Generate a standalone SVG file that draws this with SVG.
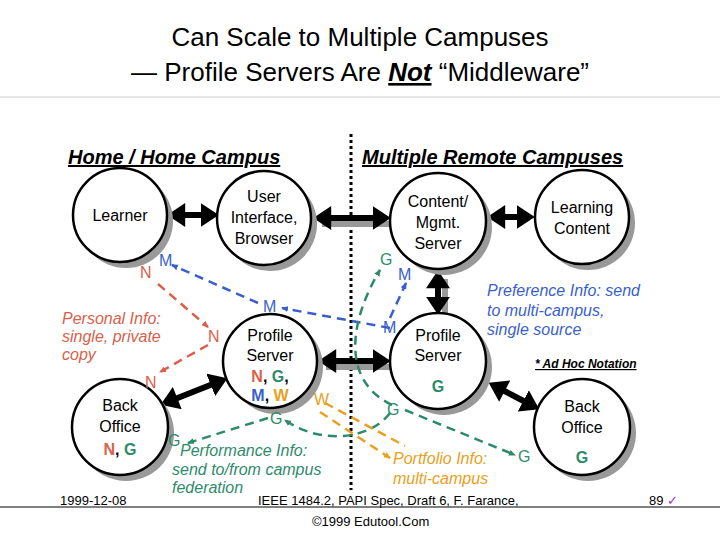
<svg xmlns="http://www.w3.org/2000/svg" width="720" height="540" viewBox="0 0 720 540">
<defs>
<style>
text{font-family:"Liberation Sans",Arial,sans-serif}
.node circle.sh{fill:#999}
.node circle.c{fill:#fff;stroke:#000;stroke-width:2.5}
.nt{font-size:16px;text-anchor:middle}
.thick{stroke:#000;stroke-width:6;fill:none;marker-start:url(#ab);marker-end:url(#ae)}
.d{fill:none;stroke-width:2.5;stroke-dasharray:9 6}
.r{stroke:#d9604a}.g{stroke:#2e8b6a}.b{stroke:#3a5fcd}.o{stroke:#e8a020}
.tr{fill:#d9604a}.tg{fill:#2e8b6a}.tb{fill:#3a5fcd}.to{fill:#e8a020}
.it{font-style:italic;font-size:16px}
.lab{font-size:16px}
</style>
<marker id="ae" markerWidth="4" markerHeight="4" refX="2.2" refY="2" orient="auto"><path d="M0,0L3,2L0,4Z" fill="#000"/></marker>
<marker id="ab" markerWidth="4" markerHeight="4" refX="0.8" refY="2" orient="auto"><path d="M3,0L0,2L3,4Z" fill="#000"/></marker>
<marker id="sr" markerWidth="8" markerHeight="8" refX="6" refY="4" orient="auto" markerUnits="userSpaceOnUse"><path d="M0,1L7,4L0,7Z" fill="#d9604a"/></marker>
<marker id="sg" markerWidth="8" markerHeight="8" refX="6" refY="4" orient="auto" markerUnits="userSpaceOnUse"><path d="M0,1L7,4L0,7Z" fill="#2e8b6a"/></marker>
<marker id="sb" markerWidth="8" markerHeight="8" refX="6" refY="4" orient="auto" markerUnits="userSpaceOnUse"><path d="M0,1L7,4L0,7Z" fill="#3a5fcd"/></marker>
<marker id="so" markerWidth="8" markerHeight="8" refX="6" refY="4" orient="auto" markerUnits="userSpaceOnUse"><path d="M0,1L7,4L0,7Z" fill="#e8a020"/></marker>
</defs>
<rect width="720" height="540" fill="#fff"/>
<text x="360" y="46" font-size="26" text-anchor="middle">Can Scale to Multiple Campuses</text>
<text x="360" y="81" font-size="26" text-anchor="middle">— Profile Servers Are <tspan font-weight="bold" font-style="italic" text-decoration="underline">Not</tspan> “Middleware”</text>
<line x1="0" y1="97" x2="720" y2="97" stroke="#ccc" stroke-width="1"/>
<text x="68" y="164" font-size="20" font-weight="bold" font-style="italic" text-decoration="underline">Home / Home Campus</text>
<text x="362" y="164" font-size="20" font-weight="bold" font-style="italic" text-decoration="underline">Multiple Remote Campuses</text>
<line x1="351" y1="134" x2="351" y2="490" stroke="#000" stroke-width="3" stroke-dasharray="3 3"/>

<g id="connectors">
<g stroke="#999" stroke-width="6" fill="none"><line x1="322" y1="224" x2="392" y2="224"/><line x1="326" y1="367" x2="392" y2="367"/><line x1="445" y1="279" x2="445" y2="318"/></g>
<line class="thick" x1="172" y1="215" x2="214" y2="215"/>
<line class="thick" x1="318" y1="218" x2="386" y2="218"/>
<line class="thick" x1="492" y1="217" x2="530" y2="217"/>
<line class="thick" x1="438" y1="275" x2="438" y2="310"/>
<line class="thick" x1="323" y1="361" x2="386" y2="361"/>
<line class="thick" x1="165" y1="403" x2="223" y2="380"/>
<line class="thick" x1="493" y1="385" x2="535" y2="407"/>
<path class="d b" d="M390,328 L282,308" marker-end="url(#sb)"/>
<path class="d b" d="M258,303 L172,265" marker-end="url(#sb)"/>
<path class="d b" d="M390,318 L406,283" marker-end="url(#sb)"/>
<path class="d r" d="M158,284 L208,327" marker-end="url(#sr)"/>
<path class="d r" d="M208,345 L160,372" marker-end="url(#sr)"/>
<path class="d g" d="M392,405 C340,380 350,320 380,270" marker-end="url(#sg)"/>
<path class="d g" d="M390,413 C370,440 320,445 285,420" marker-end="url(#sg)"/>
<path class="d g" d="M268,418 L188,443" marker-end="url(#sg)"/>
<path class="d g" d="M405,410 L515,455" marker-end="url(#sg)"/>
<path class="d o" d="M325,403 L405,446"/>
<path class="d o" d="M320,412 L390,458" marker-end="url(#so)"/>
</g>

<g id="learner" class="node"><circle class="sh" cx="126" cy="221" r="47"/><circle class="c" cx="120" cy="215" r="47"/><text class="nt" x="120" y="221">Learner</text></g>
<g id="ui" class="node"><circle class="sh" cx="270" cy="224" r="47"/><circle class="c" cx="264" cy="218" r="47"/><text class="nt" x="264" y="202">User</text><text class="nt" x="264" y="223">Interface,</text><text class="nt" x="264" y="244">Browser</text></g>
<g id="content" class="node"><circle class="sh" cx="444" cy="227" r="48"/><circle class="c" cx="438" cy="221" r="48"/><text class="nt" x="438" y="207">Content/</text><text class="nt" x="438" y="228">Mgmt.</text><text class="nt" x="438" y="249">Server</text></g>
<g id="learning" class="node"><circle class="sh" cx="588" cy="223" r="47"/><circle class="c" cx="582" cy="217" r="47"/><text class="nt" x="582" y="213">Learning</text><text class="nt" x="582" y="234">Content</text></g>
<g id="profile-home" class="node"><circle class="sh" cx="276" cy="367" r="47"/><circle class="c" cx="270" cy="361" r="47"/><text class="nt" x="270" y="341">Profile</text><text class="nt" x="270" y="361">Server</text><text class="nt" x="270" y="382" font-weight="bold" font-size="18"><tspan class="tr">N</tspan>, <tspan class="tg">G</tspan>,</text><text class="nt" x="270" y="401" font-weight="bold" font-size="18"><tspan class="tb">M</tspan>, <tspan class="to">W</tspan></text></g>
<g id="backoffice-home" class="node"><circle class="sh" cx="126" cy="433" r="48"/><circle class="c" cx="120" cy="427" r="48"/><text class="nt" x="120" y="411">Back</text><text class="nt" x="120" y="432">Office</text><text class="nt" x="120" y="455" font-weight="bold" font-size="18"><tspan class="tr">N</tspan>, <tspan class="tg">G</tspan></text></g>
<g id="profile-remote" class="node"><circle class="sh" cx="444" cy="367" r="48"/><circle class="c" cx="438" cy="361" r="48"/><text class="nt" x="438" y="341">Profile</text><text class="nt" x="438" y="361">Server</text><text class="nt tg" x="438" y="392" font-weight="bold" font-size="18">G</text></g>
<g id="backoffice-remote" class="node"><circle class="sh" cx="588" cy="433" r="48"/><circle class="c" cx="582" cy="427" r="48"/><text class="nt" x="582" y="412">Back</text><text class="nt" x="582" y="433">Office</text><text class="nt tg" x="582" y="463" font-weight="bold" font-size="18">G</text></g>

<g class="lab">
<text class="tb" x="159" y="266">M</text><text class="tr" x="140" y="278">N</text>
<text class="tb" x="263" y="312">M</text>
<text class="tr" x="208" y="342">N</text><text class="tr" x="145" y="388">N</text>
<text class="tg" x="380" y="265">G</text><text class="tb" x="398" y="280">M</text>
<text class="tb" x="383" y="333">M</text>
<text class="to" x="314" y="405">W</text>
<text class="tg" x="270" y="424">G</text><text class="tg" x="168" y="446">G</text>
<text class="tg" x="387" y="415">G</text><text class="tg" x="518" y="462">G</text>
</g>
<g class="it">
<text class="tr" x="62" y="324">Personal Info:</text><text class="tr" x="62" y="342">single, private</text><text class="tr" x="62" y="360">copy</text>
<text class="tg" x="180" y="456">Performance Info:</text><text class="tg" x="172" y="475">send to/from campus</text><text class="tg" x="172" y="493">federation</text>
<text class="to" x="393" y="464">Portfolio Info:</text><text class="to" x="393" y="484">multi-campus</text>
<text class="tb" x="487" y="296">Preference Info: send</text><text class="tb" x="487" y="316">to multi-campus,</text><text class="tb" x="487" y="335">single source</text>
</g>
<text x="535" y="368" font-size="12" font-weight="bold" font-style="italic" text-decoration="underline">* Ad Hoc Notation</text>
<line x1="0" y1="507" x2="720" y2="507" stroke="#000" stroke-width="1"/>
<g font-size="13"><text x="60" y="505">1999-12-08</text><text x="258" y="505">IEEE 1484.2, PAPI Spec, Draft 6, F. Farance,</text><text x="312" y="526">©1999 Edutool.Com</text><text x="649" y="505">89 <tspan fill="#9933cc">✓</tspan></text></g>
</svg>
